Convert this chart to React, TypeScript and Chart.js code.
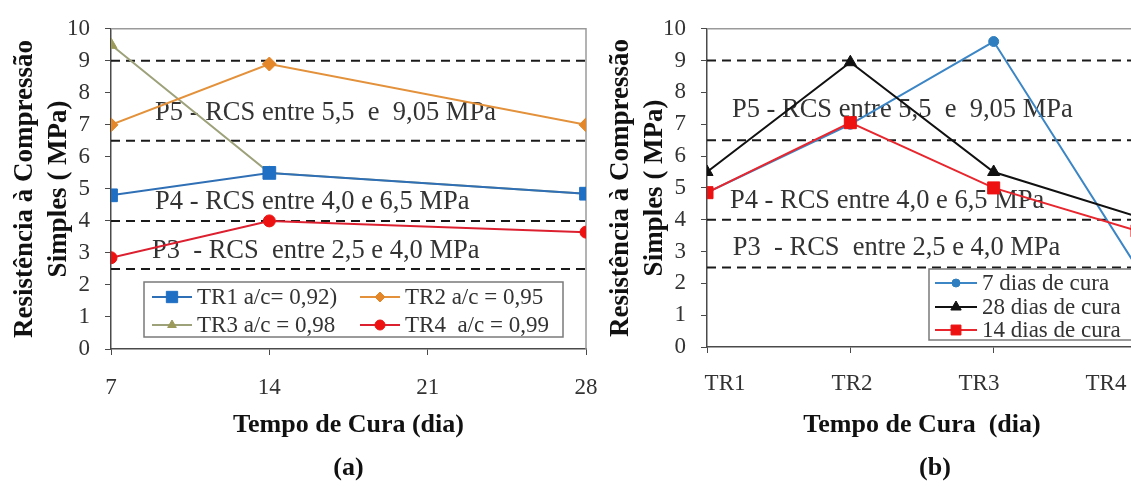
import React, { useEffect, useRef } from 'react';
import { Chart, registerables } from 'chart.js';

Chart.register(...registerables);

const FONT = '"Liberation Serif", "Times New Roman", Times, serif';
Chart.defaults.font.family = FONT;

// ---------- data: chart (a) ----------
const daysA = [7, 14, 28];
const tr1A = [4.8, 5.5, 4.85];
const tr2A = [7.0, 8.9, 7.0];
const tr3A = [9.5, 5.5, 4.85];
const tr4A = [2.85, 4.0, 3.65];
const namesA = ['TR1 a/c= 0,92)', 'TR2 a/c = 0,95', 'TR3 a/c = 0,98', 'TR4  a/c = 0,99'];

// ---------- data: chart (b) ----------
const catsB = ['TR1', 'TR2', 'TR3', 'TR4'];
const dias7B = [4.85, 7.0, 9.6, 2.5];
const dias28B = [5.5, 8.95, 5.5, 4.1];
const dias14B = [4.85, 7.05, 5.0, 3.65];
const namesB = ['7 dias de cura', '28 dias de cura', '14 dias de cura'];

// ---------- shared ----------
const limitLines = [9.0, 6.5, 4.0, 2.5];
const bandTexts = [
  'P5 - RCS entre 5,5  e  9,05 MPa',
  'P4 - RCS entre 4,0 e 6,5 MPa',
  'P3  - RCS  entre 2,5 e 4,0 MPa',
];
const yTitle = ['Resistência à Compressão', 'Simples ( MPa)'];
const xTitleA = 'Tempo de Cura (dia)';
const xTitleB = 'Tempo de Cura  (dia)';
const captions = ['(a)', '(b)'];

const AXIS = '#4a4a4a';
const TXT = '#333333';

function drawMarker(ctx: CanvasRenderingContext2D, style: string, x: number, y: number, r: number, color: string) {
  ctx.beginPath();
  if (style === 'circle') {
    ctx.arc(x, y, r, 0, Math.PI * 2);
  } else if (style === 'rect') {
    const s = r * Math.SQRT1_2;
    ctx.rect(x - s, y - s, 2 * s, 2 * s);
  } else if (style === 'rectRot') {
    ctx.moveTo(x, y - r);
    ctx.lineTo(x + r, y);
    ctx.lineTo(x, y + r);
    ctx.lineTo(x - r, y);
    ctx.closePath();
  } else {
    ctx.moveTo(x, y - r);
    ctx.lineTo(x + r * 0.866, y + r * 0.5);
    ctx.lineTo(x - r * 0.866, y + r * 0.5);
    ctx.closePath();
  }
  ctx.fillStyle = color;
  ctx.fill();
  ctx.strokeStyle = color;
  ctx.lineWidth = 1;
  ctx.stroke();
}

type DecorCfg = {
  rightFrame: boolean;
  notes: { text: string; x: number; y: number }[];
  legend: { dx: number; dyFromBottom: number; w: number; h: number; cols: number[]; rows: number[]; lineLen: number; font: number };
  caption: { text: string; dx: number; y: number };
};

function makeDecor(cfg: DecorCfg) {
  return {
    id: 'decor',
    beforeDatasetsDraw(chart: any) {
      const { ctx, chartArea, scales } = chart;
      ctx.save();
      ctx.strokeStyle = '#9a9a9a';
      ctx.lineWidth = 1.5;
      ctx.beginPath();
      ctx.moveTo(chartArea.left, chartArea.top);
      ctx.lineTo(chartArea.right, chartArea.top);
      if (cfg.rightFrame) ctx.lineTo(chartArea.right, chartArea.bottom);
      ctx.stroke();
      ctx.font = `26.5px ${FONT}`;
      ctx.fillStyle = TXT;
      ctx.textAlign = 'left';
      ctx.textBaseline = 'alphabetic';
      cfg.notes.forEach((n) => {
        ctx.fillText(n.text, scales.x.getPixelForValue(n.x), scales.y.getPixelForValue(n.y));
      });
      ctx.restore();
    },
    afterDatasetsDraw(chart: any) {
      const { ctx, chartArea } = chart;
      const L = cfg.legend;
      const bx = chartArea.left + L.dx;
      const by = chartArea.bottom - L.dyFromBottom;
      ctx.save();
      ctx.fillStyle = '#ffffff';
      ctx.fillRect(bx, by, L.w, L.h);
      ctx.strokeStyle = '#7a7a7a';
      ctx.lineWidth = 1.5;
      ctx.strokeRect(bx, by, L.w, L.h);
      const items = chart.data.datasets.filter((d: any) => d.inLegend);
      ctx.font = `${L.font}px ${FONT}`;
      ctx.textBaseline = 'middle';
      ctx.textAlign = 'left';
      items.forEach((d: any, i: number) => {
        const col = i % L.cols.length;
        const row = Math.floor(i / L.cols.length);
        const x0 = bx + L.cols[col];
        const y0 = by + L.rows[row];
        ctx.strokeStyle = d.borderColor;
        ctx.lineWidth = 2;
        ctx.beginPath();
        ctx.moveTo(x0, y0);
        ctx.lineTo(x0 + L.lineLen, y0);
        ctx.stroke();
        drawMarker(ctx, d.pointStyle, x0 + L.lineLen / 2, y0, d.legendRadius, d.pointBackgroundColor);
        ctx.fillStyle = TXT;
        ctx.fillText(d.label, x0 + L.lineLen + 5, y0 + 1);
      });
      ctx.restore();
    },
    afterDraw(chart: any) {
      const { ctx, chartArea } = chart;
      ctx.save();
      ctx.font = `bold 26px ${FONT}`;
      ctx.fillStyle = '#111';
      ctx.textAlign = 'center';
      ctx.textBaseline = 'middle';
      ctx.fillText(cfg.caption.text, (chartArea.left + chartArea.right) / 2 + cfg.caption.dx, cfg.caption.y);
      ctx.restore();
    },
  };
}

function series(label: string, xs: number[], ys: number[], line: string, marker: string, style: string, r: number, lr: number, order: number) {
  return {
    label,
    data: xs.map((x, i) => ({ x, y: ys[i] })),
    borderColor: line,
    backgroundColor: marker,
    pointBackgroundColor: marker,
    pointBorderColor: marker,
    pointStyle: style,
    pointRadius: r,
    pointBorderWidth: 1,
    borderWidth: 2,
    tension: 0,
    order,
    inLegend: true,
    legendRadius: lr,
  };
}

function limitSet(v: number, x0: number, x1: number) {
  return {
    label: '',
    data: [{ x: x0, y: v }, { x: x1, y: v }],
    borderColor: '#1a1a1a',
    borderWidth: 2,
    borderDash: [9, 6],
    pointRadius: 0,
    order: 10,
    inLegend: false,
  };
}

const tickFont = { family: FONT, size: 23 };
const xTitleFont = { family: FONT, size: 26, weight: 'bold' as const };
const yTitleFont = { family: FONT, size: 27, weight: 'bold' as const, lineHeight: 1.25 };

function yScale() {
  return {
    min: 0,
    max: 10,
    ticks: { stepSize: 1, color: TXT, font: tickFont, padding: 15 },
    grid: { drawOnChartArea: false, tickLength: 6, color: AXIS },
    border: { color: AXIS, width: 1.5 },
    title: { display: true, text: yTitle, color: '#111', font: yTitleFont, padding: { top: 8, bottom: 0 } },
    afterFit: (s: any) => { s.width = 111; },
  };
}

function configA(): any {
  return {
    type: 'line',
    data: {
      datasets: [
        series(namesA[0], daysA, tr1A, '#2f6fb5', '#1f6fc4', 'rect', 9, 8, 0),
        series(namesA[1], daysA, tr2A, '#e3913a', '#e3872a', 'rectRot', 7, 5, 1),
        series(namesA[2], daysA, tr3A, '#9ea27a', '#9c9a5a', 'triangle', 7, 5, 2),
        series(namesA[3], daysA, tr4A, '#dc2030', '#ee1111', 'circle', 6, 5, 0),
        ...limitLines.map((v) => limitSet(v, 7, 28)),
      ],
    },
    options: {
      animation: false,
      responsive: false,
      maintainAspectRatio: false,
      layout: { padding: { top: 25, right: 40, bottom: 40, left: 0 } },
      plugins: { legend: { display: false }, tooltip: { enabled: false } },
      scales: {
        x: {
          type: 'linear',
          min: 7,
          max: 28,
          ticks: { stepSize: 7, color: TXT, font: tickFont, padding: 19 },
          grid: { drawOnChartArea: false, tickLength: 6, color: AXIS },
          border: { color: AXIS, width: 1.5 },
          title: { display: true, text: xTitleA, color: '#111', font: xTitleFont, padding: { top: 0, bottom: 5 } },
          afterFit: (s: any) => { s.height = 97; },
        },
        y: yScale(),
      },
    },
    plugins: [
      makeDecor({
        rightFrame: true,
        notes: [
          { text: bandTexts[0], x: 8.95, y: 7.16 },
          { text: bandTexts[1], x: 8.95, y: 4.38 },
          { text: bandTexts[2], x: 8.81, y: 2.84 },
        ],
        legend: { dx: 33, dyFromBottom: 67, w: 419, h: 55, cols: [8, 216], rows: [15, 43], lineLen: 40, font: 23 },
        caption: { text: captions[0], dx: 0, y: 468 },
      }),
    ],
  };
}

function configB(): any {
  const idx = catsB.map((_, i) => i);
  return {
    type: 'line',
    data: {
      datasets: [
        series(namesB[0], idx, dias7B, '#3c86c6', '#2f7fc0', 'circle', 5, 4, 2),
        series(namesB[1], idx, dias28B, '#111111', '#111111', 'triangle', 7, 6, 1),
        series(namesB[2], idx, dias14B, '#e8262e', '#ee1111', 'rect', 8.5, 7, 0),
        ...limitLines.map((v) => limitSet(v, 0, 3)),
      ],
    },
    options: {
      animation: false,
      responsive: false,
      maintainAspectRatio: false,
      layout: { padding: { top: 23, right: 14, bottom: 40, left: 0 } },
      plugins: { legend: { display: false }, tooltip: { enabled: false } },
      scales: {
        x: {
          type: 'linear',
          position: 'bottom',
          weight: 0,
          min: 0,
          max: 3,
          ticks: { stepSize: 1, display: false },
          grid: { drawOnChartArea: false, tickLength: 6, color: AXIS },
          border: { color: AXIS, width: 1.5 },
          afterFit: (s: any) => { s.height = 6; },
        },
        xl: {
          type: 'linear',
          axis: 'x',
          position: 'bottom',
          weight: 1,
          bounds: 'data',
          min: -0.142,
          max: 3.244,
          afterBuildTicks: (s: any) => { s.ticks = catsB.map((_, i) => ({ value: i })); },
          ticks: { color: TXT, font: tickFont, padding: 17, callback: (v: number) => catsB[Math.round(v)] },
          grid: { display: false, drawTicks: false },
          border: { display: false },
          title: { display: true, text: xTitleB, color: '#111', font: xTitleFont, padding: { top: 0, bottom: 5 } },
          afterFit: (s: any) => { s.height = 93; },
        },
        y: yScale(),
      },
    },
    plugins: [
      makeDecor({
        rightFrame: false,
        notes: [
          { text: bandTexts[0], x: 0.174, y: 7.22 },
          { text: bandTexts[1], x: 0.16, y: 4.38 },
          { text: bandTexts[2], x: 0.18, y: 2.9 },
        ],
        legend: { dx: 222, dyFromBottom: 78, w: 230, h: 71, cols: [6], rows: [14, 38, 61], lineLen: 42, font: 23 },
        caption: { text: captions[1], dx: 13, y: 468 },
      }),
    ],
  };
}

export default function App() {
  const refA = useRef<HTMLCanvasElement>(null);
  const refB = useRef<HTMLCanvasElement>(null);
  useEffect(() => {
    const a = new Chart(refA.current as HTMLCanvasElement, configA());
    const b = new Chart(refB.current as HTMLCanvasElement, configB());
    return () => {
      a.destroy();
      b.destroy();
    };
  }, []);
  return (
    <div style={{ position: 'fixed', left: 0, top: 0, width: 1131, height: 486, overflow: 'hidden', background: '#fff' }}>
      <canvas ref={refA} width={626} height={486} style={{ position: 'absolute', left: 0, top: 0, width: 626, height: 486 }} />
      <canvas ref={refB} width={555} height={486} style={{ position: 'absolute', left: 596, top: 0, width: 555, height: 486 }} />
    </div>
  );
}
